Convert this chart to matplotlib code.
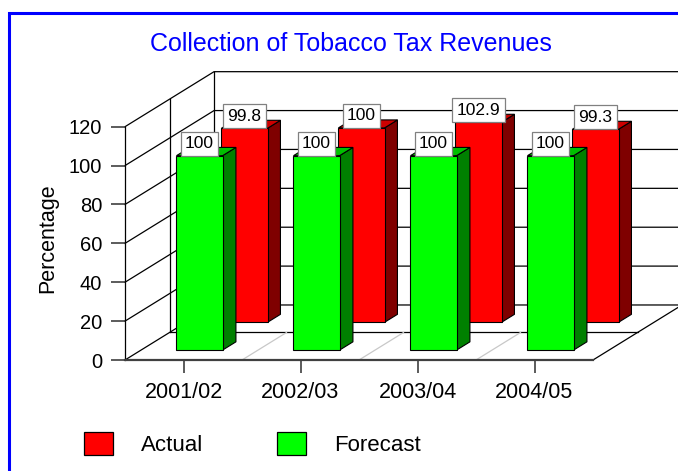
"""Tobacco tax collection: actual vs forecast, drawn as an oblique 3D bar chart."""

import matplotlib.pyplot as plt
from matplotlib.lines import Line2D
from matplotlib.patches import Patch, Polygon, Rectangle


CATEGORIES = ["2001/02", "2002/03", "2003/04", "2004/05"]
ACTUAL = [99.8, 100, 102.9, 99.3]
FORECAST = [100, 100, 100, 100]
Y_TICKS = [0, 20, 40, 60, 80, 100, 120]

# depth vector of the box, in (category, value) units
DEPTH_X = 0.761
DEPTH_Y = 28.3
HALF_W = 0.197

plt.rcParams["font.family"] = ["Liberation Sans", "DejaVu Sans"]


def proj(x, y, d):
    return (x + d * DEPTH_X, y + d * DEPTH_Y)


def line(ax, pts, color="black", lw=0.9, z=1):
    xs, ys = zip(*pts)
    ax.add_line(Line2D(xs, ys, color=color, lw=lw, zorder=z, clip_on=False))


def draw_box(ax):
    n = len(CATEGORIES)
    top = Y_TICKS[-1]
    for v in Y_TICKS:
        line(ax, [proj(0, v, 0), proj(0, v, 1), proj(n, v, 1)])
    line(ax, [proj(0, 0, 0.5), proj(0, top, 0.5)])
    line(ax, [proj(0, 0, 1), proj(0, top, 1)])
    line(ax, [proj(0, 0, 0.5), proj(n, 0, 0.5)])
    line(ax, [proj(n, 0, 0), proj(n, 0, 1), proj(n, top, 1)])
    for i in range(1, n):
        line(ax, [proj(i, 0, 0), proj(i, 0, 0.5)], color="#c8c8c8", z=1.5)


def draw_bar(ax, xc, value, d0, d1, front_c, top_c, side_c, z):
    x0, x1 = xc - HALF_W, xc + HALF_W
    side = [proj(x1, 0, d0), proj(x1, 0, d1), proj(x1, value, d1), proj(x1, value, d0)]
    lid = [proj(x0, value, d0), proj(x1, value, d0), proj(x1, value, d1), proj(x0, value, d1)]
    front = [proj(x0, 0, d0), proj(x1, 0, d0), proj(x1, value, d0), proj(x0, value, d0)]
    for pts, c in [(side, side_c), (lid, top_c), (front, front_c)]:
        ax.add_patch(Polygon(pts, closed=True, fc=c, ec="black", lw=0.8, zorder=z, clip_on=False))
    ax.annotate(f"{value:g}", xy=proj(xc, value, d0), xytext=(0, 3.2), textcoords="offset points",
                ha="center", va="bottom", fontsize=12.5, zorder=z + 10, annotation_clip=False,
                bbox=dict(boxstyle="square,pad=0.25", fc="white", ec="#808080", lw=0.9))


fig = plt.figure(figsize=(6.78, 4.71), dpi=100)
ax = fig.add_axes([125 / 678, 111 / 471, 468 / 678, 233.3 / 471])
ax.patch.set_visible(False)
ax.set_xlim(0, len(CATEGORIES))
ax.set_ylim(0, Y_TICKS[-1])

draw_box(ax)
for i, v in enumerate(ACTUAL):
    draw_bar(ax, i + 0.5, v, 0.685, 0.83, "#ff0000", "#cc0000", "#7f0000", 3)
for i, v in enumerate(FORECAST):
    draw_bar(ax, i + 0.5, v, 0.18, 0.33, "#00ff00", "#00c000", "#008000", 4)

ax.set_xticks([i + 0.5 for i in range(len(CATEGORIES))])
ax.set_xticklabels(CATEGORIES)
ax.set_yticks(Y_TICKS)
ax.tick_params(axis="x", length=9.4, width=1.2, color="#404040", pad=6.3, labelsize=15.5)
ax.tick_params(axis="y", length=10, width=1.2, color="#404040", pad=6.5, labelsize=14.5)
for side in ["top", "right"]:
    ax.spines[side].set_visible(False)
ax.spines["left"].set_linewidth(0.9)
ax.spines["bottom"].set_color("#404040")
ax.spines["bottom"].set_linewidth(1.6)

fig.text(351 / 678, 1 - 44 / 471, "Collection of Tobacco Tax Revenues", ha="center", va="center",
         color="#0000ff", fontsize=18)
fig.text(48 / 678, 1 - 238 / 471, "Percentage", rotation=90, ha="center", va="center", fontsize=15.5)

handles = [Patch(fc="#ff0000", ec="black", lw=0.9), Patch(fc="#00ff00", ec="black", lw=0.9)]
fig.legend(handles, ["Actual", "Forecast"], loc="center left", bbox_to_anchor=(84 / 678, 1 - 444 / 471),
           ncol=2, frameon=False, fontsize=16, handlelength=1.32, handleheight=1.18,
           handletextpad=1.26, columnspacing=3.3, borderpad=0, borderaxespad=0)

fig.add_artist(Rectangle((9 / 678, -0.5), 2, 1.5 - 13 / 471, fill=False, ec="#0000ff", lw=2.2,
                         transform=fig.transFigure))

fig.savefig("out.png", dpi=100)
